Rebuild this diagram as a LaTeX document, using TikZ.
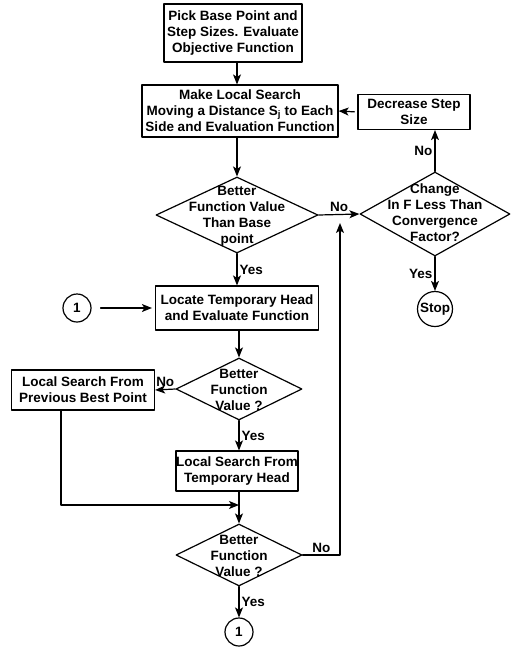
\documentclass[tikz,border=0pt]{standalone}
\usepackage{fontspec}
\setmainfont{Liberation Sans}
\usetikzlibrary{arrows.meta}
\usetikzlibrary{shapes.geometric}

\begin{document}
\begin{tikzpicture}[line cap=round,line join=round,>={Stealth[length=10pt,width=8pt,inset=2.5pt]},x=1pt,y=-1pt,
  every node/.style={font=\bfseries\fontsize{13.5}{16}\selectfont},
  box/.style={draw,line width=1.2pt,align=center,inner sep=0pt},
  dec/.style={draw,diamond,line width=1.2pt,inner sep=0pt},
  dectext/.style={align=center,inner sep=0pt},
  conn/.style={draw,circle,line width=1.2pt,inner sep=0pt},
  lab/.style={inner sep=2pt}]
\useasboundingbox (0,0) rectangle (518,649);
% boxes
\node[box,minimum width=138,minimum height=58] (b1) at (233,33) {Pick Base Point and\\Step Sizes. Evaluate\\Objective Function};
\node[box,minimum width=196,minimum height=52] (b2) at (240,111) {Make Local Search\\Moving a Distance S\textsubscript{j} to Each\\Side and Evaluation Function};
\node[box,minimum width=112,minimum height=35] (ds) at (414,112) {Decrease Step\\Size};
\node[box,minimum width=163,minimum height=44] (b3) at (237,308) {Locate Temporary Head\\and Evaluate Function};
\node[box,minimum width=143,minimum height=40] (b4) at (83,390) {Local Search From\\Previous Best Point};
\node[box,minimum width=122,minimum height=40] (b5) at (237,471) {Local Search From\\Temporary Head};
% decisions
\node[dec,minimum width=162,minimum height=76] (d1) at (237,215) {};
\node[dectext] (t1) at (237,216) {Better\\Function Value\\Than Base\\point};
\node[dec,minimum width=150,minimum height=84] (d2) at (435,214) {};
\node[dectext] (t2) at (435,213) {Change\\In F Less Than\\Convergence\\Factor?};
\node[dec,minimum width=126,minimum height=62] (d3) at (239,389) {};
\node[dectext] (t3) at (239,390) {Better\\Function\\Value ?};
\node[dec,minimum width=126,minimum height=62] (d4) at (239,555) {};
\node[dectext] (t4) at (239,556) {Better\\Function\\Value ?};
% connectors
\node[conn,minimum size=28] (c1) at (77,308) {1};
\node[conn,minimum size=28] (c2) at (239,632) {1};
\node[conn,minimum size=35] (st) at (435,309) {Stop};
\coordinate (j) at (239,505);
\coordinate (k) at (340,215);
% arrows
\draw[line width=1.2pt,->] (b1.south -| d1) -- (b2.north -| d1);
\draw[line width=1.2pt,->] (b2.south -| d1) -- (d1.north);
\draw[line width=1.2pt,->] (d1.east) -- (d2.west) node[lab,midway,above] {No};
\draw[line width=1.2pt,->] (d2.north) -- (d2.north |- ds.south) node[lab,midway,left] {No};
\draw[line width=1.2pt,->,shorten <=3pt] (ds.west) -- (b2.east);
\draw[line width=1.2pt,->] (d2.south) -- (st.north) node[lab,midway,left] {Yes};
\draw[line width=1.2pt,->] (d1.south) -- (b3.north) node[lab,midway,right] {Yes};
\draw[line width=1.2pt,->,shorten <=9pt,shorten >=3pt] (c1.east) -- (b3.west);
\draw[line width=1.2pt,->] (b3.south -| d3) -- (d3.north);
\draw[line width=1.2pt,->] (d3.west) -- (b4.east) node[lab,midway,above] {No};
\draw[line width=1.2pt,->] (d3.south) -- (b5.north -| d3) node[lab,midway,right] {Yes};
\draw[line width=1.2pt,->] ([xshift=-22pt]b4.south) |- (j);
\draw[line width=1.2pt,->] (b5.south -| d4) -- (d4.north);
\draw[line width=1.2pt,->,shorten >=8pt] (d4.east) -| node[lab,pos=0.25,above] {No} (k);
\draw[line width=1.2pt,->] (d4.south) -- (c2.north) node[lab,midway,right] {Yes};
\end{tikzpicture}
\end{document}
